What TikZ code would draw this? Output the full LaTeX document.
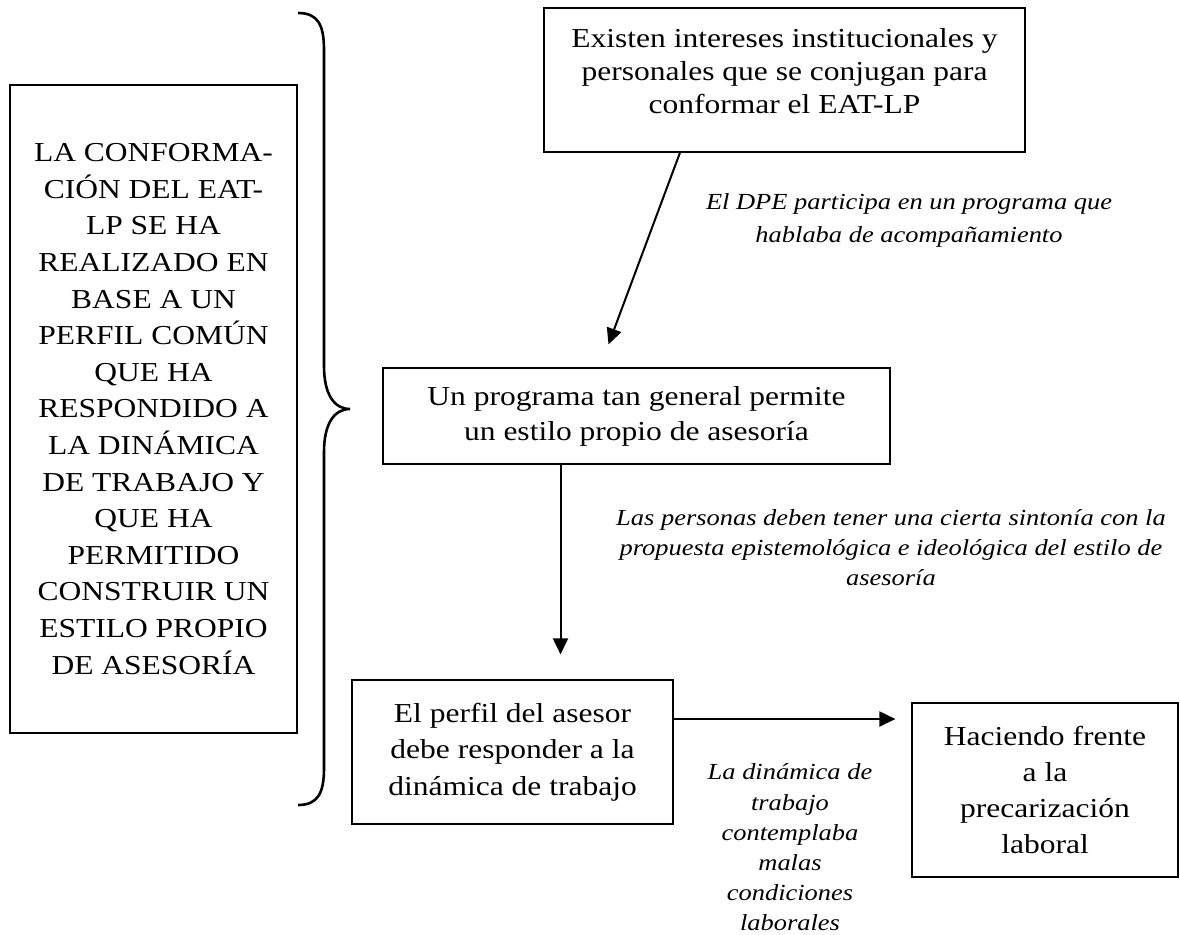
\documentclass[tikz,border=0pt]{standalone}
\usepackage{fontspec}
\setmainfont[FakeStretch=1.15]{Liberation Serif}
\usetikzlibrary{arrows.meta,positioning}

\begin{document}
\begin{tikzpicture}[x=1pt,y=-1pt,on grid,
		caja/.style={draw,line width=1.2pt,align=center,inner sep=0pt},
		nota/.style={align=center,inner sep=0pt},
		flecha/.style={-{Triangle[length=16pt,width=15pt]},line width=2pt}]
				\useasboundingbox (0,0) rectangle (1180,934);
				\node[caja,minimum width=481pt,minimum height=144pt,font=\fontsize{27.4}{33}\selectfont] (c_0) at (784.5,80) {Existen intereses institucionales y\\personales que se conjugan para\\conformar el EAT-LP\rule[-18pt]{0pt}{18pt}};
				\node[caja,minimum width=507pt,minimum height=96pt,font=\fontsize{27.4}{35}\selectfont] (c_1) [below left=336pt and 148pt of c_0] {Un programa tan general permite\\un estilo propio de asesoría};
				\node[caja,minimum width=321pt,minimum height=144pt,font=\fontsize{27.4}{36.7}\selectfont] (c_2) [below left=336pt and 124pt of c_1] {El perfil del asesor\\debe responder a la\\dinámica de trabajo};
				\node[caja,minimum width=266pt,minimum height=174pt,font=\fontsize{27.4}{36}\selectfont] (c_3) [below right=38pt and 532.5pt of c_2] {Haciendo frente\\a la\\precarización\\laboral};
				\node[caja,minimum width=287pt,minimum height=648pt,font=\fontsize{27.4}{36.6}\selectfont] (c_4) at (153.5,409) {LA CONFORMA-\\CIÓN DEL EAT-\\LP SE HA\\REALIZADO EN\\BASE A UN\\PERFIL COMÚN\\QUE HA\\RESPONDIDO A\\LA DINÁMICA\\DE TRABAJO Y\\QUE HA\\PERMITIDO\\CONSTRUIR UN\\ESTILO PROPIO\\DE ASESORÍA};
				\node[nota,font=\fontsize{23}{33}\selectfont\itshape] (l_0) [below right=140pt and 124.5pt of c_0] {El DPE participa en un programa que\\hablaba de acompañamiento};
				\node[nota,font=\fontsize{23}{30}\selectfont\itshape] (l_1) [below right=132pt and 254.5pt of c_1] {Las personas deben tener una cierta sintonía con la\\propuesta epistemológica e ideológica del estilo de\\asesoría};
				\node[nota,font=\fontsize{23}{30.2}\selectfont\itshape] (l_2) [below right=95.5pt and 277.5pt of c_2] {La dinámica de\\trabajo\\contemplaba\\malas\\condiciones\\laborales};
				\draw[flecha] ([xshift=-104.5pt]c_0.south) -- ([xshift=-28pt,yshift=23pt]c_1.north);
				\draw[flecha,shorten >=25pt] ([xshift=-76pt]c_1.south) -- ([xshift=-76pt]c_1.south |- c_2.north);
				\draw[flecha,shorten >=16pt] ([yshift=33pt]c_2.east) -- ([yshift=33pt]c_2.east -| c_3.west);
				\draw[line width=2.6pt] (298,13) .. controls (318,13) and (324,25) .. (324,50) -- (324,366) .. controls (324,394) and (334,409) .. (350,409) .. controls (334,409) and (324,424) .. (324,452) -- (324,768) .. controls (324,793) and (318,805) .. (298,805);
			\end{tikzpicture}
\end{document}
